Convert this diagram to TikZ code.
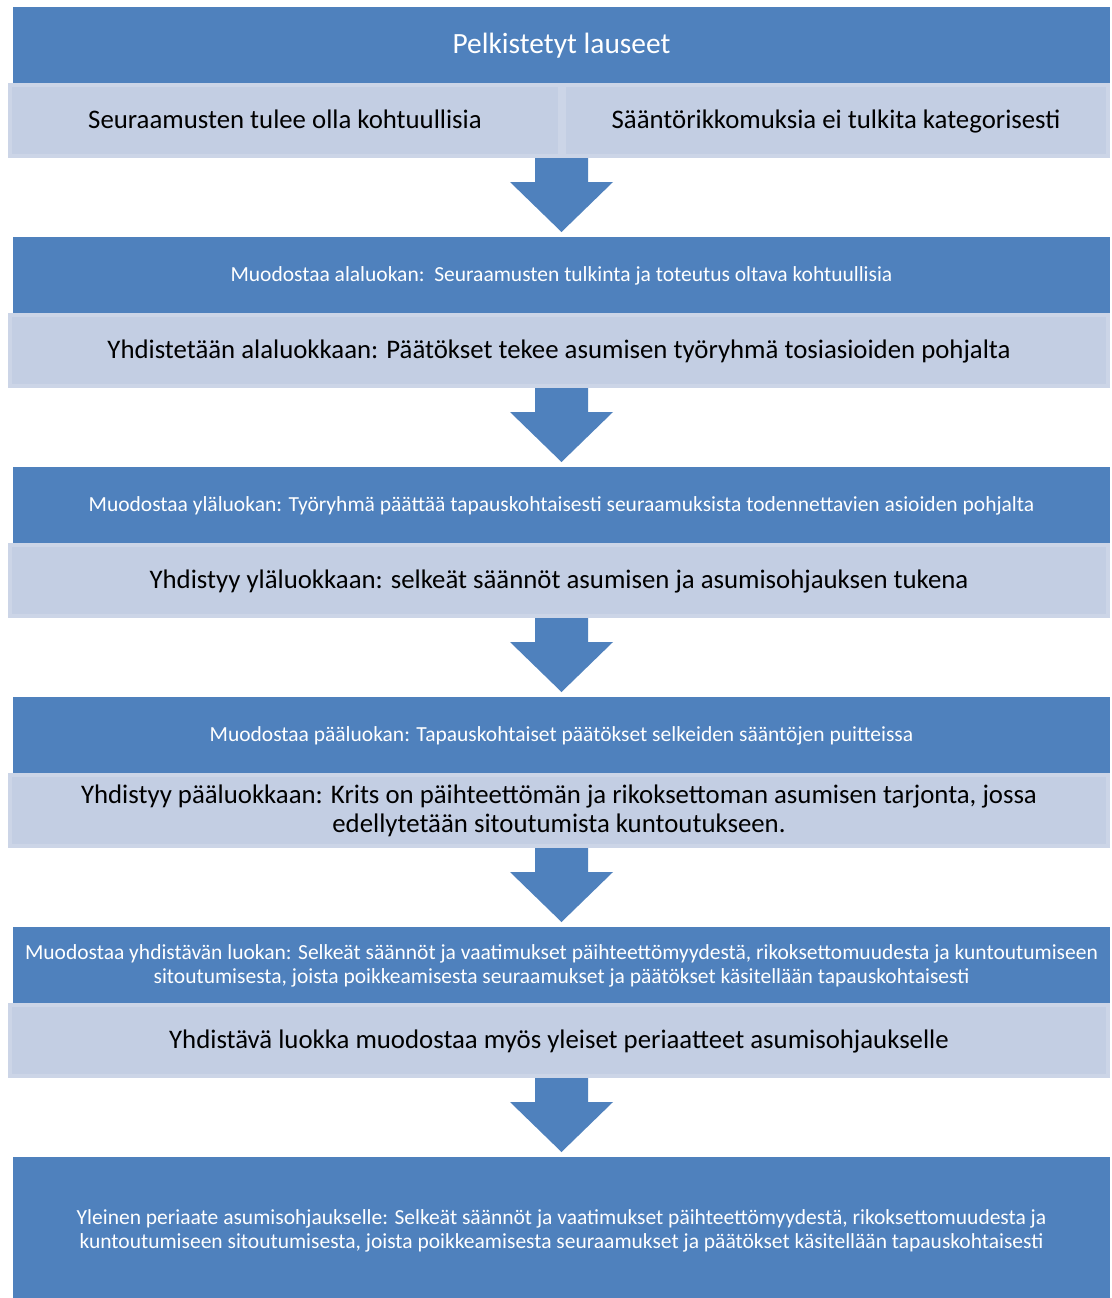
\documentclass[tikz,border=0pt]{standalone}
\usepackage{fontspec}
\setmainfont{Carlito}
\usetikzlibrary{calc}
\definecolor{blueC}{HTML}{4F81BD}
\definecolor{lightC}{HTML}{C3CEE3}
\definecolor{lightE}{HTML}{CCD5E7}
\begin{document}
\begin{tikzpicture}[x=1pt,y=-1pt,
  bluebox/.style={rectangle, fill=blueC, inner sep=0pt, outer sep=0pt, minimum width=1097pt, minimum height=76pt, text=white, align=center, font=\fontsize{21.5}{24}\selectfont, text height=16pt, text depth=4pt},
  lightbox/.style={rectangle, fill=lightC, draw=lightE, line width=4pt, inner sep=0pt, minimum width=1098pt, minimum height=71pt, text=black, align=center, font=\fontsize{26.8}{29}\selectfont, text height=21pt, text depth=6pt},
  arrowfill/.style={fill=blueC}]
\useasboundingbox (0,0) rectangle (1111,1298);
\fill[white] (0,0) rectangle (1111,1298);

% level 1
\node[bluebox, font=\fontsize{29.4}{32}\selectfont, text height=22pt, text depth=6pt] (B1) at (561.5,45) {Pelkistetyt lauseet};
\node[lightbox, minimum width=550pt] (L1a) at (285,120.5) {Seuraamusten tulee olla kohtuullisia};
\node[lightbox, minimum width=544pt] (L1b) at (836,120.5) {Sääntörikkomuksia ei tulkita kategorisesti};

% level 2
\node[bluebox] (B2) at (561.5,275) {Muodostaa alaluokan:\ \ Seuraamusten tulkinta ja toteutus oltava kohtuullisia};
\node[lightbox] (L2) at (559,350.5) {Yhdistetään alaluokkaan: Päätökset tekee asumisen työryhmä tosiasioiden pohjalta};

% level 3
\node[bluebox] (B3) at (561.5,505) {Muodostaa yläluokan: Työryhmä päättää tapauskohtaisesti seuraamuksista todennettavien asioiden pohjalta};
\node[lightbox] (L3) at (559,580.5) {Yhdistyy yläluokkaan: selkeät säännöt asumisen ja asumisohjauksen tukena};

% level 4
\node[bluebox] (B4) at (561.5,735) {Muodostaa pääluokan: Tapauskohtaiset päätökset selkeiden sääntöjen puitteissa};
\node[lightbox, text height=50pt, text depth=6pt] (L4) at (559,810.5) {Yhdistyy pääluokkaan: Krits on päihteettömän ja rikoksettoman asumisen tarjonta, jossa\\edellytetään sitoutumista kuntoutukseen.};

% level 5
\node[bluebox, text height=40pt, text depth=4pt] (B5) at (561.5,965) {Muodostaa yhdistävän luokan: Selkeät säännöt ja vaatimukset päihteettömyydestä, rikoksettomuudesta ja kuntoutumiseen\\sitoutumisesta, joista poikkeamisesta seuraamukset ja päätökset käsitellään tapauskohtaisesti};
\node[lightbox] (L5) at (559,1040.5) {Yhdistävä luokka muodostaa myös yleiset periaatteet asumisohjaukselle};

% level 6
\node[bluebox, minimum height=141pt, text height=45pt, text depth=4pt] (B6) at (561.5,1227.5) {Yleinen periaate asumisohjaukselle: Selkeät säännöt ja vaatimukset päihteettömyydestä, rikoksettomuudesta ja\\kuntoutumiseen sitoutumisesta, joista poikkeamisesta seuraamukset ja päätökset käsitellään tapauskohtaisesti};

% block arrows
\foreach \a/\b in {L1a/B2, L2/B3, L3/B4, L4/B5, L5/B6} {
  \fill[arrowfill]
    ($(\a.south -| \b.north)+(-26.5,0)$) --
    ($(\a.south -| \b.north)+(26.5,0)$) --
    ($(\b.north)+(26.5,-55)$) --
    ($(\b.north)+(51.5,-55)$) --
    ($(\b.north)+(0,-5)$) --
    ($(\b.north)+(-51.5,-55)$) --
    ($(\b.north)+(-26.5,-55)$) -- cycle;
}
\end{tikzpicture}
\end{document}
